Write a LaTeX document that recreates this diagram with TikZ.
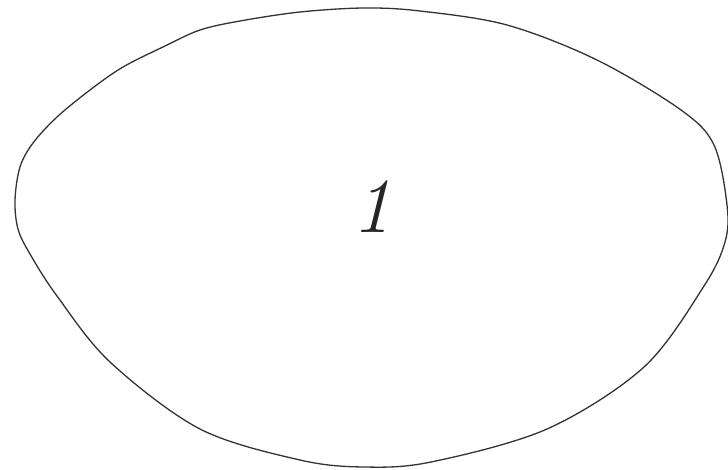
\documentclass[tikz,border=0pt]{standalone}
\usepackage{fontspec}
\begin{document}
\begin{tikzpicture}[x=1pt,y=-1pt,
  outline/.style={draw=black!80,line width=1.3pt,line join=round},
  label1/.style={text=black!85,font=\fontsize{78}{78}\selectfont\itshape,inner sep=0pt}]
\useasboundingbox (0,0) rectangle (728,469);
\fill[white] (0,0) rectangle (728,469);
\draw[outline] plot[smooth cycle,tension=0.55] coordinates {
 (15,200) (20,167) (33,143) (57,117) (90,90) (123,67) (165,46) (200,30)
 (240,21) (300,12) (364,8) (420,11) (507,25) (597,60) (681,110) (714,145)
 (727,205) (725,242) (704,286) (644,367) (547,429) (431,462) (364,467)
 (300,460) (200,429) (110,362) (57,296) (30,254) (18,229)};
\node[label1] (n1) at (372,207) {1};
\end{tikzpicture}
\end{document}
